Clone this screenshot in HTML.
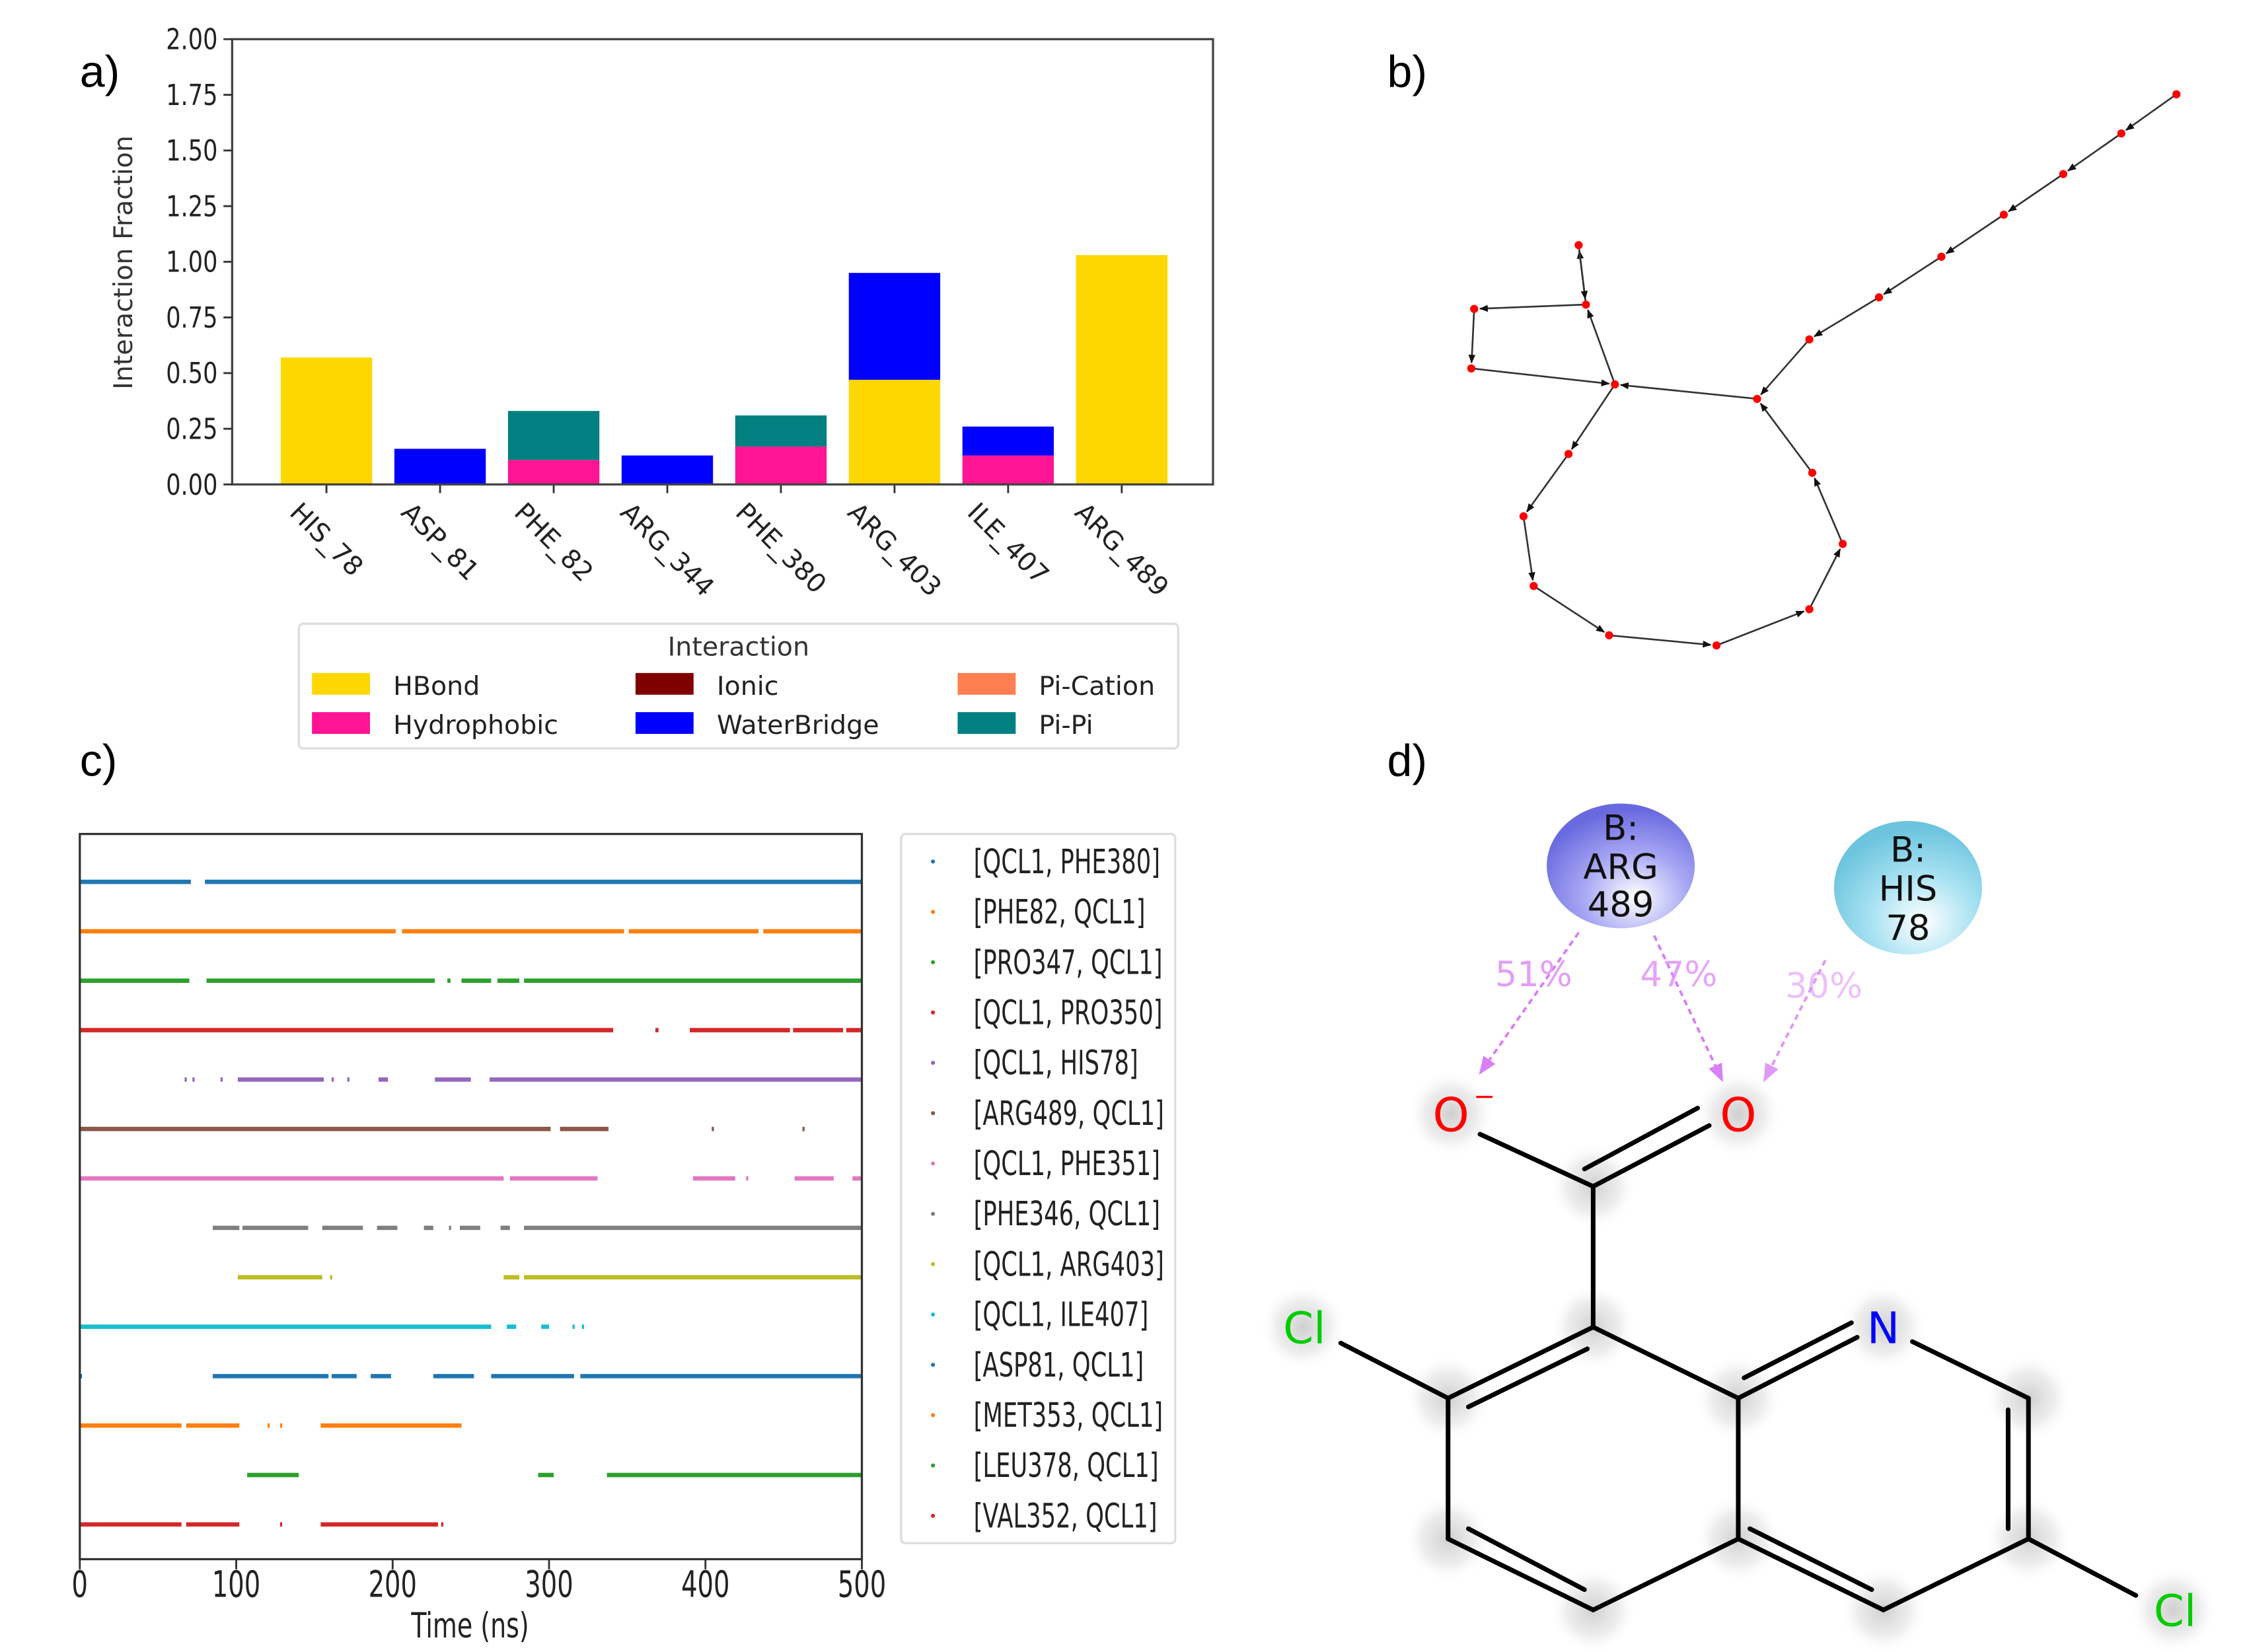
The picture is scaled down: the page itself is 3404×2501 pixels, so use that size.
<!DOCTYPE html>
<html><head><meta charset="utf-8">
<style>
html,body{margin:0;padding:0;background:#fff;}
svg{display:block;}
.t{font-family:"DejaVu Sans","Liberation Sans",sans-serif;}
.n{font-family:"DejaVu Sans","Liberation Sans",sans-serif;}
.lab{font-family:"Liberation Sans",sans-serif;font-size:31px;fill:#000;}
</style></head>
<body>
<svg id="fig" width="3404" height="2501" viewBox="0 0 1550 1139" preserveAspectRatio="none" xmlns="http://www.w3.org/2000/svg">
<defs>
<radialGradient id="halo"><stop offset="0" stop-color="#bbb" stop-opacity="0.7"/><stop offset="0.6" stop-color="#ccc" stop-opacity="0.35"/><stop offset="1" stop-color="#fff" stop-opacity="0"/></radialGradient>
<radialGradient id="argG" cx="0.6" cy="0.75" r="0.7"><stop offset="0" stop-color="#ffffff"/><stop offset="0.5" stop-color="#a8a8f4"/><stop offset="1" stop-color="#6a6ae0"/></radialGradient>
<radialGradient id="hisG" cx="0.6" cy="0.75" r="0.7"><stop offset="0" stop-color="#ffffff"/><stop offset="0.5" stop-color="#a8e2f2"/><stop offset="1" stop-color="#6cc4de"/></radialGradient>
<marker id="ah" viewBox="0 0 10 10" refX="9" refY="5" markerWidth="5" markerHeight="5" orient="auto"><path d="M0,1 L10,5 L0,9 z" fill="#111"/></marker>
<marker id="pa" viewBox="0 0 10 10" refX="9" refY="5" markerWidth="7" markerHeight="7" orient="auto"><path d="M0,1 L10,5 L0,9 z" fill="#d880f4"/></marker>
</defs>
<text class="lab" x="55" y="60">a)</text>
<text class="lab" x="956" y="60">b)</text>
<text class="lab" x="55" y="535">c)</text>
<text class="lab" x="956" y="535">d)</text>
<g id="pa-g"></g>
<g id="pb-g"></g>
<g id="pc-g"></g>
<g id="pd-g"></g>
</svg>
<script>
const NS='http://www.w3.org/2000/svg';
// ---- Panel a data ----
const residues=['HIS_78','ASP_81','PHE_82','ARG_344','PHE_380','ARG_403','ILE_407','ARG_489'];
const hbond=[0.57,0,0,0,0,0.47,0,1.03];
const hydrophobic=[0,0,0.11,0,0.17,0,0.13,0];
const ionic=[0,0,0,0,0,0,0,0];
const waterbridge=[0,0.16,0,0.13,0,0.48,0.13,0];
const pication=[0,0,0,0,0,0,0,0];
const pipi=[0,0,0.22,0,0.14,0,0,0];
const yTicks=[0,0.25,0.5,0.75,1.0,1.25,1.5,1.75,2.0];
// ---- Panel c data ----
const contacts=['[QCL1, PHE380]','[PHE82, QCL1]','[PRO347, QCL1]','[QCL1, PRO350]','[QCL1, HIS78]','[ARG489, QCL1]','[QCL1, PHE351]','[PHE346, QCL1]','[QCL1, ARG403]','[QCL1, ILE407]','[ASP81, QCL1]','[MET353, QCL1]','[LEU378, QCL1]','[VAL352, QCL1]'];
const segments=[
 [[0,71],[80,500]],
 [[0,202],[206,348],[351,434],[437,500]],
 [[0,70],[81,227],[235,237],[244,263],[267,281],[284,500]],
 [[0,341],[368,370],[390,454],[456,488],[490,500]],
 [[67,68],[72,73],[90,91],[101,156],[161,162],[171,172],[191,197],[227,250],[262,500]],
 [[0,301],[307,338],[404,405],[462,463]],
 [[0,271],[275,331],[392,419],[426,427],[457,482],[494,500]],
 [[85,102],[104,146],[155,181],[190,203],[220,226],[236,237],[243,256],[269,275],[284,500]],
 [[101,155],[160,161],[271,281],[284,500]],
 [[0,263],[273,279],[295,300],[315,316],[321,322]],
 [[0,1],[85,159],[161,177],[186,199],[226,252],[263,316],[320,500]],
 [[0,65],[68,102],[120,121],[128,129],[154,244]],
 [[107,140],[293,303],[337,500]],
 [[0,65],[68,102],[128,129],[154,229],[231,232]]
];
const timeTicks=[0,100,200,300,400,500];
const colors=['#1f77b4','#ff7f0e','#2ca02c','#d62728','#9467bd','#8c564b','#e377c2','#7f7f7f','#bcbd22','#17becf','#1f77b4','#ff7f0e','#2ca02c','#d62728'];

function mk(tag,attrs,parent,txt){const e=document.createElementNS(NS,tag);for(const k in attrs)e.setAttribute(k,attrs[k]);if(txt!==undefined)e.textContent=txt;parent.appendChild(e);return e;}
function ctext(parent,x,y,txt,fs,anchor,sx){return mk('text',{x:0,y:0,transform:`translate(${x},${y}) scale(${sx},1)`,'text-anchor':anchor,'font-size':fs,fill:'#222',class:'n'},parent,txt);}

// ===== Panel a =====
(function(){
 const g=document.getElementById('pa-g');
 const L=160,R=836,T=27,B=334;
 const y=v=>B-(v/2.0)*(B-T);
 const x=i=>225+i*78.3;
 const bw=63;
 const series=[['HBond',hbond,'#ffd700'],['Hydrophobic',hydrophobic,'#ff1493'],['Ionic',ionic,'#800000'],['WaterBridge',waterbridge,'#0000ff'],['Pi-Cation',pication,'#ff7f50'],['Pi-Pi',pipi,'#008080']];
 residues.forEach((r,i)=>{
  let base=0;
  series.forEach(s=>{const v=s[1][i];if(v>0){const b=mk('rect',{x:x(i)-bw/2,y:y(base+v),width:bw,height:y(base)-y(base+v),fill:s[2]},g);
   
   base+=v;}});
  mk('line',{x1:x(i),x2:x(i),y1:B,y2:B+6,stroke:'#333','stroke-width':1.3},g);
  const t=mk('text',{x:0,y:0,'text-anchor':'middle','font-size':18,fill:'#222',class:'t'},g,r);
  
  
  const len=t.getComputedTextLength()||60;
  t.setAttribute('transform',`translate(${x(i)},${B+16+len*0.354}) rotate(45)`);
  t.setAttribute('dy','6');
 });
 const fr=mk('rect',{x:L,y:T,width:R-L,height:B-T,fill:'none',stroke:'#444','stroke-width':1.5},g);
 
 
 yTicks.forEach(v=>{
  mk('line',{x1:L-6,x2:L,y1:y(v),y2:y(v),stroke:'#333','stroke-width':1.3},g);
  const t=ctext(g,L-10,y(v)+7,v.toFixed(2),20,'end',0.8);
  
  
 });
 const yl=mk('text',{transform:'translate(91,181) rotate(-90)','text-anchor':'middle','font-size':18,fill:'#333',class:'t'},g,'Interaction Fraction');
 
 
 const lg=mk('g',{},g);
 
 
 mk('rect',{x:206,y:430,width:606,height:86,rx:3,fill:'#fff',stroke:'#ddd','stroke-width':1.5},lg);
 mk('text',{x:509,y:452,'text-anchor':'middle','font-size':18,fill:'#333',class:'t'},lg,'Interaction');
 const pos=[[215,472],[215,499],[438,472],[438,499],[660,472],[660,499]];
 [0,1,2,3,4,5].forEach((si,k)=>{const s=series[si];const p=pos[k];
  const e=mk('g',{},lg);
  
  
  mk('rect',{x:p[0],y:p[1]-8,width:40,height:15,fill:s[2]},e);
  mk('text',{x:p[0]+56,y:p[1]+7,'font-size':18,fill:'#222',class:'t'},e,s[0]);
 });
})();

// ===== Panel b =====
const nodesB=[[1500,65],[1462,92],[1422,120],[1381,148],[1338,177],[1295,205],[1247,234],[1211,275],[1113,265],[1093,210],[1088,169],[1016,213],[1014,254],[1081,313],[1050,356],[1057,404],[1109,438],[1183,445],[1247,420],[1270,375],[1249,326]];
const edgesB=[[0,1],[1,2],[2,3],[3,4],[4,5],[5,6],[6,7],[7,8],[8,9],[9,10],[10,9],[9,11],[11,12],[12,8],[8,13],[13,14],[14,15],[15,16],[16,17],[17,18],[18,19],[19,20],[20,7]];
(function(){
 const g=document.getElementById('pb-g');
 edgesB.forEach(e=>{const a=nodesB[e[0]],b=nodesB[e[1]];const dx=b[0]-a[0],dy=b[1]-a[1],d=Math.hypot(dx,dy);
  const l=mk('line',{x1:a[0],y1:a[1],x2:b[0]-dx/d*4,y2:b[1]-dy/d*4,stroke:'#333','stroke-width':1.2,'marker-end':'url(#ah)'},g);
  
  });
 nodesB.forEach(n=>{const c=mk('circle',{cx:n[0],cy:n[1],r:2.8,fill:'#ff0000'},g);
  
  });
})();

// ===== Panel c =====
(function(){
 const g=document.getElementById('pc-g');
 const L=55,R=594,T=575,B=1075;
 const x=v=>L+(v/500)*(R-L);
 const ry=i=>608+i*34.08;
 segments.forEach((segs,i)=>{segs.forEach(s=>{
  const l=mk('line',{x1:x(s[0]),x2:Math.max(x(s[1]),x(s[0])+1.5),y1:ry(i),y2:ry(i),stroke:colors[i],'stroke-width':3},g);
  
  });});
 const fr=mk('rect',{x:L,y:T,width:R-L,height:B-T,fill:'none',stroke:'#333','stroke-width':1.5},g);
 
 
 timeTicks.forEach(v=>{
  mk('line',{x1:x(v),x2:x(v),y1:B,y2:B+7,stroke:'#333','stroke-width':1.3},g);
  const t=ctext(g,x(v),B+26,String(v),25,'middle',0.7);
  
  
 });
 const xt=ctext(g,324,1129,'Time (ns)',24,'middle',0.72);
 
 
 const lg=mk('g',{},g);
 
 
 mk('rect',{x:621,y:575,width:189,height:489,rx:3,fill:'#fff',stroke:'#ddd','stroke-width':1.5},lg);
 contacts.forEach((c,i)=>{const yy=594+i*34.7;
  const e=mk('g',{},lg);
  
  
  mk('circle',{cx:643,cy:yy,r:1.4,fill:colors[i]},e);
  ctext(e,671,yy+8,c,23,'start',0.7);
 });
})();

// ===== Panel d =====
(function(){
 const g=document.getElementById('pd-g');
 const A={C:[1098,818],C8:[1098,915],C7:[998,964],C8a:[1198,964],N:[1298,915],C2:[1398,964],C3:[1398,1061],C4:[1298,1110],C4a:[1198,1061],C5:[1098,1110],C6:[998,1061],Om:[1000,768],O:[1198,768],Cl1:[898,915],Cl2:[1498,1110]};
 Object.keys(A).forEach(k=>{const p=A[k];mk('circle',{cx:p[0],cy:p[1],r:30,fill:'url(#halo)'},g);});
 const line=(x1,y1,x2,y2)=>{const l=mk('line',{x1,y1,x2,y2,stroke:'#000','stroke-width':3.2,'stroke-linecap':'round'},g);};
 line(1020,782,1098,818);
 line(1098,818,1178,776);line(1092,806,1170,764);
 line(1098,818,1098,915);
 line(1098,915,998,964);line(1094,930,1012,970);
 line(1098,915,1198,964);
 line(1198,964,1280,922);line(1202,950,1276,912);
 line(1318,925,1398,964);
 line(1398,964,1398,1061);line(1384,972,1384,1054);
 line(1398,1061,1298,1110);
 line(1298,1110,1198,1061);line(1290,1096,1206,1054);
 line(1198,1061,1198,964);
 line(1198,1061,1098,1110);
 line(1098,1110,998,1061);line(1092,1096,1012,1054);
 line(998,1061,998,964);
 line(998,964,924,926);
 line(1398,1061,1472,1100);
 const at=(x,y,t,c,fs)=>{const e=mk('text',{x,y,'text-anchor':'middle','font-size':fs,fill:c,class:'t'},g,t);};
 at(1000,780,'O','#ff0000',32);at(1023,762,'−','#ff0000',18);
 at(1198,780,'O','#ff0000',32);
 at(1298,926,'N','#0000ff',30);
 at(899,926,'Cl','#00cc00',30);at(1499,1121,'Cl','#00cc00',30);
 const res=mk('g',{},g);
 mk('ellipse',{cx:1117,cy:597,rx:51,ry:43,fill:'url(#argG)'},res);
 [['B:',579],['ARG',606],['489',632]].forEach(a=>mk('text',{x:1117,y:a[1],'text-anchor':'middle','font-size':24,fill:'#111',class:'t'},res,a[0]));
 const his=mk('g',{},g);
 mk('ellipse',{cx:1315,cy:612,rx:51,ry:46,fill:'url(#hisG)'},his);
 [['B:',594],['HIS',621],['78',648]].forEach(a=>mk('text',{x:1315,y:a[1],'text-anchor':'middle','font-size':24,fill:'#111',class:'t'},his,a[0]));
 const hb=(x1,y1,x2,y2,op)=>{const l=mk('line',{x1,y1,x2,y2,stroke:'#d880f4','stroke-width':1.8,'stroke-dasharray':'4,3','marker-end':'url(#pa)',opacity:op},g);};
 hb(1088,643,1020,740,1);hb(1140,645,1187,745,1);hb(1258,662,1216,745,0.8);
 const pc=(x,y,t,op)=>{const e=mk('text',{x,y,'text-anchor':'middle','font-size':24,fill:'#e08ef6',opacity:op,class:'t'},g,t);};
 pc(1057,680,'51%',0.85);pc(1157,680,'47%',0.8);pc(1257,688,'30%',0.55);
})();
</script>
</body></html>
